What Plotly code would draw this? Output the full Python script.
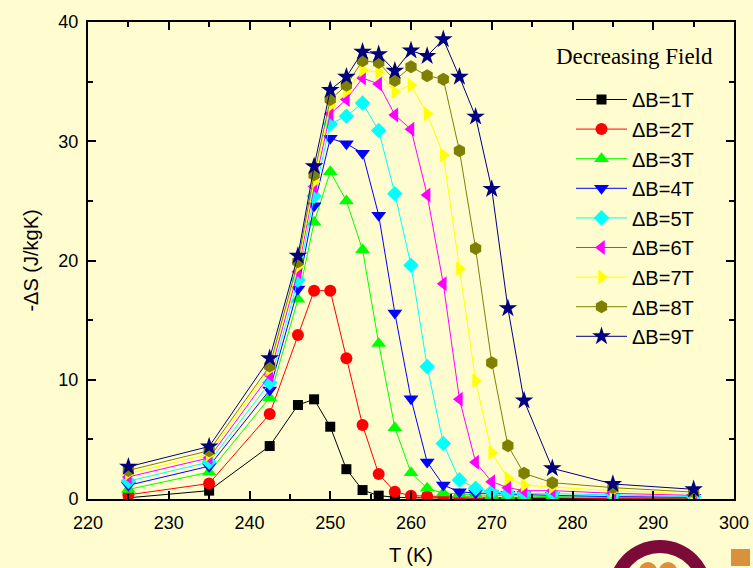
import plotly.graph_objects as go

# Temperature grid (K)
temps = [225, 235, 242.5, 246, 248, 250, 252, 254, 256, 258, 260, 262,
         264, 266, 268, 270, 272, 274, 277.5, 285, 295]

# Magnetic entropy change -ΔS (J/kgK) for each field step
ds_1T = [0.1, 0.7, 4.44, 7.88, 8.36, 6.06, 2.5, 0.75, 0.28, 0.15, 0.1, 0.1,
         0.1, 0.08, 0.07, 0.05, 0.05, 0.05, 0.04, 0.02, 0.02]
ds_2T = [0.35, 1.3, 7.13, 13.75, 17.47, 17.47, 11.8, 6.2, 2.1, 0.6, 0.28, 0.22,
         0.2, 0.18, 0.15, 0.15, 0.15, 0.1, 0.1, 0.05, 0.05]
ds_3T = [0.8, 2.25, 8.5, 16.75, 23.2, 27.45, 25.0, 20.9, 13.05, 5.98, 2.2, 0.9,
         0.5, 0.4, 0.35, 0.3, 0.3, 0.25, 0.2, 0.12, 0.1]
ds_4T = [1.15, 2.75, 9.14, 17.6, 24.6, 30.25, 29.8, 29.0, 23.8, 15.6, 8.4, 3.1,
         1.17, 0.6, 0.5, 0.45, 0.4, 0.35, 0.3, 0.2, 0.15]
ds_5T = [1.5, 3.1, 9.75, 18.36, 25.4, 31.45, 32.1, 33.2, 30.9, 25.6, 19.6, 11.1,
         4.65, 1.6, 0.9, 0.6, 0.5, 0.45, 0.45, 0.35, 0.2]
ds_6T = [1.85, 3.45, 10.4, 19.06, 26.2, 32.3, 33.5, 35.3, 34.8, 32.2, 31.0, 25.5,
         18.05, 8.36, 3.08, 1.45, 0.95, 0.7, 0.7, 0.48, 0.3]
ds_7T = [2.15, 3.75, 10.9, 19.5, 26.6, 33.0, 34.2, 35.97, 35.8, 34.15, 34.7, 32.3,
         28.85, 19.3, 9.92, 3.88, 1.73, 1.17, 1.0, 0.7, 0.42]
ds_8T = [2.4, 4.05, 11.15, 19.9, 27.2, 33.5, 34.7, 36.75, 36.6, 35.1, 36.25, 35.5,
         35.2, 29.2, 21.0, 11.43, 4.47, 2.15, 1.37, 0.95, 0.58]
ds_9T = [2.7, 4.4, 11.8, 20.4, 27.9, 34.3, 35.4, 37.5, 37.3, 35.9, 37.6, 37.15,
         38.55, 35.4, 32.06, 26.0, 16.0, 8.25, 2.57, 1.26, 0.81]

series_names = ["ΔB=1T", "ΔB=2T", "ΔB=3T", "ΔB=4T", "ΔB=5T",
                "ΔB=6T", "ΔB=7T", "ΔB=8T", "ΔB=9T"]
series_values = [ds_1T, ds_2T, ds_3T, ds_4T, ds_5T, ds_6T, ds_7T, ds_8T, ds_9T]

colors = ["#000000", "#FF0000", "#00FF00", "#0000FF", "#00FFFF",
          "#FF00FF", "#FFFF00", "#808000", "#000080"]
symbols = ["square", "circle", "triangle-up", "triangle-down", "diamond",
           "triangle-left", "triangle-right", "hexagon", "star"]
sizes = [10, 12, 13, 13, 12, 13, 13, 13, 14]

x_ticks = [220, 230, 240, 250, 260, 270, 280, 290, 300]
y_ticks = [0, 10, 20, 30, 40]

BG = "#FFFDD0"

fig = go.Figure()
for i, (name, vals) in enumerate(zip(series_names, series_values)):
    fig.add_trace(go.Scatter(
        x=temps, y=vals, name=name, mode="lines+markers",
        legendgroup=name,
        line=dict(color=colors[i], width=1),
        marker=dict(symbol=symbols[i], size=sizes[i], color=colors[i],
                    line=dict(width=0)),
    ))

W, H = 753, 568
L, R, T, B = 88, 19, 22, 69
pw, ph = W - L - R, H - T - B


def px(xp):
    return (xp - L) / pw


def py(yp):
    return (H - B - yp) / ph


axis_common = dict(
    showgrid=False, zeroline=False, showline=True, linecolor="black",
    linewidth=2, mirror="ticks", ticks="inside", ticklen=8, tickwidth=1.5,
    tickcolor="black", automargin=False,
    tickfont=dict(family="Liberation Sans, Arial", size=18, color="black"),
    minor=dict(ticks="inside", ticklen=5, tickwidth=1.5, tickcolor="black",
               dtick=5),
)

fig.update_layout(
    width=W, height=H,
    margin=dict(l=L, r=R, t=T, b=B, pad=0, autoexpand=False),
    paper_bgcolor=BG, plot_bgcolor=BG,
    xaxis=dict(range=[220, 300], tickvals=x_ticks, ticklabelstandoff=6,
               title=dict(text="T (K)", standoff=16,
                          font=dict(family="Liberation Sans, Arial", size=20,
                                    color="black")),
               **axis_common),
    yaxis=dict(range=[0, 40], tickvals=y_ticks, ticklabelstandoff=4,
               title=dict(text="-ΔS (J/kgK)", standoff=14,
                          font=dict(family="Liberation Sans, Arial", size=20,
                                    color="black")),
               **axis_common),
    legend=dict(
        x=px(571), y=py(80), xanchor="left", yanchor="top",
        bgcolor="rgba(0,0,0,0)", borderwidth=0,
        font=dict(family="Liberation Sans, Arial", size=20, color="black"),
        itemwidth=51, tracegroupgap=0.6,
    ),
    showlegend=True,
)

fig.add_annotation(
    x=px(634), y=py(57), xref="paper", yref="paper",
    xanchor="center", yanchor="middle",
    text="Decreasing Field", showarrow=False,
    font=dict(family="Liberation Serif, Times New Roman", size=23, color="black"),
)

# Emblem in the lower-right corner
fig.add_shape(type="circle", xref="paper", yref="paper",
              x0=px(608), x1=px(712), y0=py(540), y1=py(644),
              fillcolor="#7D0B3A", line=dict(width=0), layer="above")
fig.add_shape(type="circle", xref="paper", yref="paper",
              x0=px(621), x1=px(699), y0=py(553), y1=py(631),
              fillcolor=BG, line=dict(width=0), layer="above")
for cx in (648, 668):
    fig.add_shape(type="circle", xref="paper", yref="paper",
                  x0=px(cx - 9), x1=px(cx + 9), y0=py(562), y1=py(580),
                  fillcolor="#D9913C", line=dict(width=0), layer="above")
fig.add_shape(type="rect", xref="paper", yref="paper",
              x0=px(731), x1=px(750), y0=py(549), y1=py(566),
              fillcolor="#D9913C", line=dict(width=0), layer="above")

fig.write_html("out.html")
